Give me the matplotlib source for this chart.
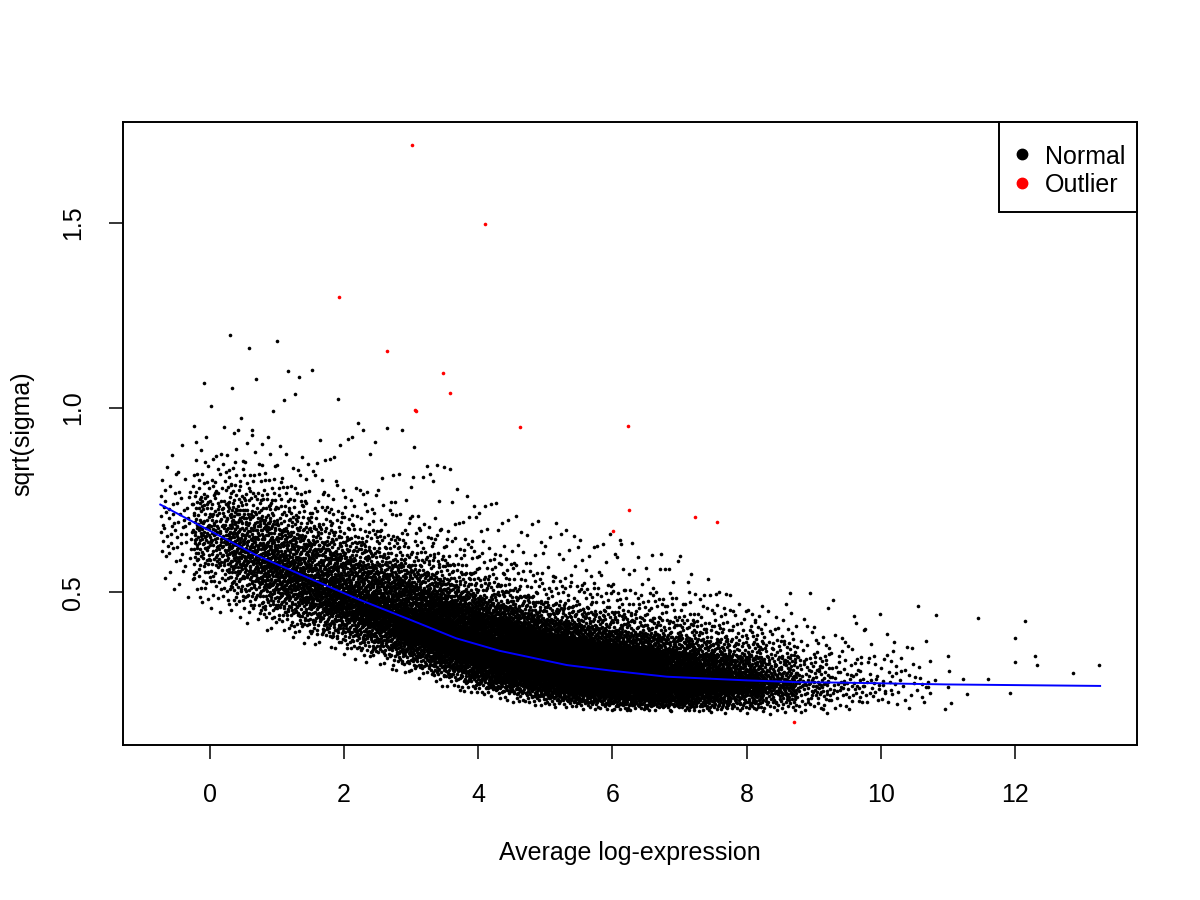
import numpy as np
import matplotlib
matplotlib.use('Agg')
import matplotlib.pyplot as plt
from matplotlib.patches import Rectangle

plt.rcParams['font.family'] = ['Liberation Sans', 'DejaVu Sans']

# --- data --------------------------------------------------------------
# the dense cloud is too big to read point by point, so it is kept as
# counts per x-bin and quantiles of sqrt(sigma) at a few x knots
bin_edges = [-0.74, -0.25, 0.25, 0.75, 1.25, 1.75, 2.25, 2.75, 3.25, 3.75,
             4.25, 4.75, 5.25, 5.75, 6.25, 6.75, 7.25, 7.75, 8.25, 8.75,
             9.25, 9.75, 10.25, 10.75]
bin_counts = [70, 250, 420, 520, 580, 650, 750, 880, 1040, 1170, 1270, 1300,
              1300, 1230, 1100, 900, 680, 450, 260, 125, 70, 45, 28]

quant_levels = [0.0, 0.01, 0.05, 0.15, 0.35, 0.5, 0.65, 0.85, 0.93, 0.97,
                0.99, 1.0]
knot_x = [-0.5, 0.25, 1, 2, 3, 4, 5, 6, 7, 8, 9, 10, 11]
knot_q = [
    [0.46, 0.49, 0.54, 0.60, 0.655, 0.685, 0.72, 0.78, 0.83, 0.88, 0.95, 1.03],
    [0.44, 0.47, 0.51, 0.56, 0.615, 0.645, 0.68, 0.75, 0.81, 0.88, 0.98, 1.23],
    [0.38, 0.42, 0.455, 0.50, 0.55, 0.578, 0.615, 0.685, 0.745, 0.81, 0.91, 1.26],
    [0.33, 0.36, 0.39, 0.43, 0.47, 0.497, 0.53, 0.60, 0.655, 0.715, 0.81, 1.01],
    [0.27, 0.30, 0.33, 0.365, 0.40, 0.427, 0.46, 0.525, 0.575, 0.635, 0.72, 0.95],
    [0.22, 0.245, 0.27, 0.305, 0.34, 0.362, 0.39, 0.447, 0.49, 0.55, 0.63, 0.76],
    [0.19, 0.21, 0.233, 0.263, 0.297, 0.316, 0.342, 0.39, 0.43, 0.475, 0.55, 0.70],
    [0.18, 0.195, 0.213, 0.24, 0.272, 0.29, 0.315, 0.36, 0.40, 0.45, 0.52, 0.66],
    [0.18, 0.19, 0.205, 0.23, 0.257, 0.272, 0.295, 0.34, 0.38, 0.43, 0.49, 0.60],
    [0.17, 0.185, 0.20, 0.225, 0.25, 0.265, 0.285, 0.33, 0.37, 0.41, 0.45, 0.47],
    [0.17, 0.18, 0.195, 0.22, 0.245, 0.26, 0.285, 0.33, 0.37, 0.41, 0.46, 0.52],
    [0.18, 0.19, 0.20, 0.22, 0.245, 0.26, 0.285, 0.33, 0.37, 0.41, 0.45, 0.48],
    [0.19, 0.20, 0.21, 0.225, 0.245, 0.26, 0.285, 0.33, 0.37, 0.40, 0.43, 0.46],
]

# sparse points on the far right, read one by one
tail_x = [10.81, 10.83, 10.96, 11.0, 11.02, 11.0, 11.05, 11.23, 11.28, 11.45,
          11.6, 11.93, 12.0, 12.0, 12.15, 12.3, 12.33, 12.87, 13.26]
tail_y = [0.263, 0.439, 0.184, 0.243, 0.287, 0.327, 0.20, 0.267, 0.224, 0.43,
          0.267, 0.227, 0.378, 0.313, 0.424, 0.327, 0.303, 0.281, 0.303]

outlier_x = [3.016, 4.104, 1.928, 2.639, 3.478, 3.582, 3.056, 3.07, 4.617,
             6.236, 6.251, 6.012, 7.235, 7.554, 8.711]
outlier_y = [1.711, 1.4965, 1.301, 1.153, 1.093, 1.040, 0.995, 0.99, 0.949,
             0.951, 0.7235, 0.6676, 0.7054, 0.691, 0.1495]

trend_x = [-0.74, 0.0, 0.69, 1.5, 2.18, 3.0, 3.67, 4.32, 5.32, 6.0, 6.81,
           8.0, 8.8, 9.39, 11.0, 13.27]
trend_y = [0.738, 0.667, 0.601, 0.537, 0.484, 0.425, 0.376, 0.342, 0.3035,
           0.288, 0.272, 0.262, 0.257, 0.256, 0.251, 0.247]

legend_labels = ['Normal', 'Outlier']
legend_colors = ['black', '#FF0000']


def radical_inverse(idx, base):
    # deterministic Halton coordinate, spreads points evenly inside a bin
    idx = np.asarray(idx, dtype=np.int64).copy()
    f = np.ones(idx.shape)
    r = np.zeros(idx.shape)
    while np.any(idx > 0):
        f = f / base
        r = r + f * (idx % base)
        idx = idx // base
    return r


def cloud_points():
    xs, ys = [], []
    knot_q_arr = np.array(knot_q)
    start = 1
    for i, n in enumerate(bin_counts):
        idx = np.arange(start, start + n)
        start += n
        lo, hi = bin_edges[i], bin_edges[i + 1]
        x = lo + radical_inverse(idx, 2) * (hi - lo)
        v = radical_inverse(idx, 3)
        q = np.column_stack([np.interp(x, knot_x, knot_q_arr[:, j])
                             for j in range(len(quant_levels))])
        y = np.array([np.interp(v[k], quant_levels, q[k]) for k in range(n)])
        xs.append(x)
        ys.append(y)
    return np.concatenate(xs), np.concatenate(ys)


normal_x, normal_y = cloud_points()
normal_x = np.concatenate([normal_x, tail_x])
normal_y = np.concatenate([normal_y, tail_y])

fig = plt.figure(figsize=(12, 9), dpi=100)
ax = fig.add_axes([0.1025, 0.1722, 0.845, 0.6922])

ax.plot(normal_x, normal_y, 'o', color='black', markersize=2.6,
        markeredgewidth=0, antialiased=False)
ax.plot(outlier_x, outlier_y, 'o', color='#FF0000', markersize=2.6,
        markeredgewidth=0, antialiased=False)
ax.plot(trend_x, trend_y, color='#0000FF', linewidth=1.4)

# R style 4% padding around the data range
all_x = np.concatenate([normal_x, outlier_x])
all_y = np.concatenate([normal_y, outlier_y])
dx = (all_x.max() - all_x.min()) * 0.04
dy = (all_y.max() - all_y.min()) * 0.04
ax.set_xlim(all_x.min() - dx, all_x.max() + dx)
ax.set_ylim(all_y.min() - dy, all_y.max() + dy)

ax.set_xticks([0, 2, 4, 6, 8, 10, 12])
ax.set_yticks([0.5, 1.0, 1.5])
ax.set_yticklabels(['0.5', '1.0', '1.5'], rotation=90, va='center')
ax.tick_params(direction='out', length=10.4, width=1.1, labelsize=18,
               pad=17)
for s in ax.spines.values():
    s.set_linewidth(1.4)

fig.text(630 / 1200, 1 - 853 / 900, 'Average log-expression', fontsize=18,
         ha='center', va='center')
fig.text(22 / 1200, 1 - 433.5 / 900, 'sqrt(sigma)', fontsize=18,
         rotation=90, ha='center', va='center')

# legend box in the top right corner, drawn like R's legend()
box_left, box_top, box_right, box_bottom = 999, 122, 1137, 212
fig.patches.append(Rectangle((box_left / 1200, 1 - box_bottom / 900),
                             (box_right - box_left) / 1200,
                             (box_bottom - box_top) / 900,
                             transform=fig.transFigure, facecolor='white',
                             edgecolor='black', linewidth=1.4, zorder=5))
for i, (lab, col) in enumerate(zip(legend_labels, legend_colors)):
    yy = 1 - (154 + 29 * i) / 900
    fig.lines.append(plt.Line2D([1022 / 1200], [yy], marker='o', color=col,
                                markersize=7.5, linestyle='',
                                transform=fig.transFigure, zorder=6))
    fig.text(1045 / 1200, yy, lab, fontsize=18, ha='left',
             va='center_baseline', zorder=6)

fig.savefig('out.png', dpi=100)
